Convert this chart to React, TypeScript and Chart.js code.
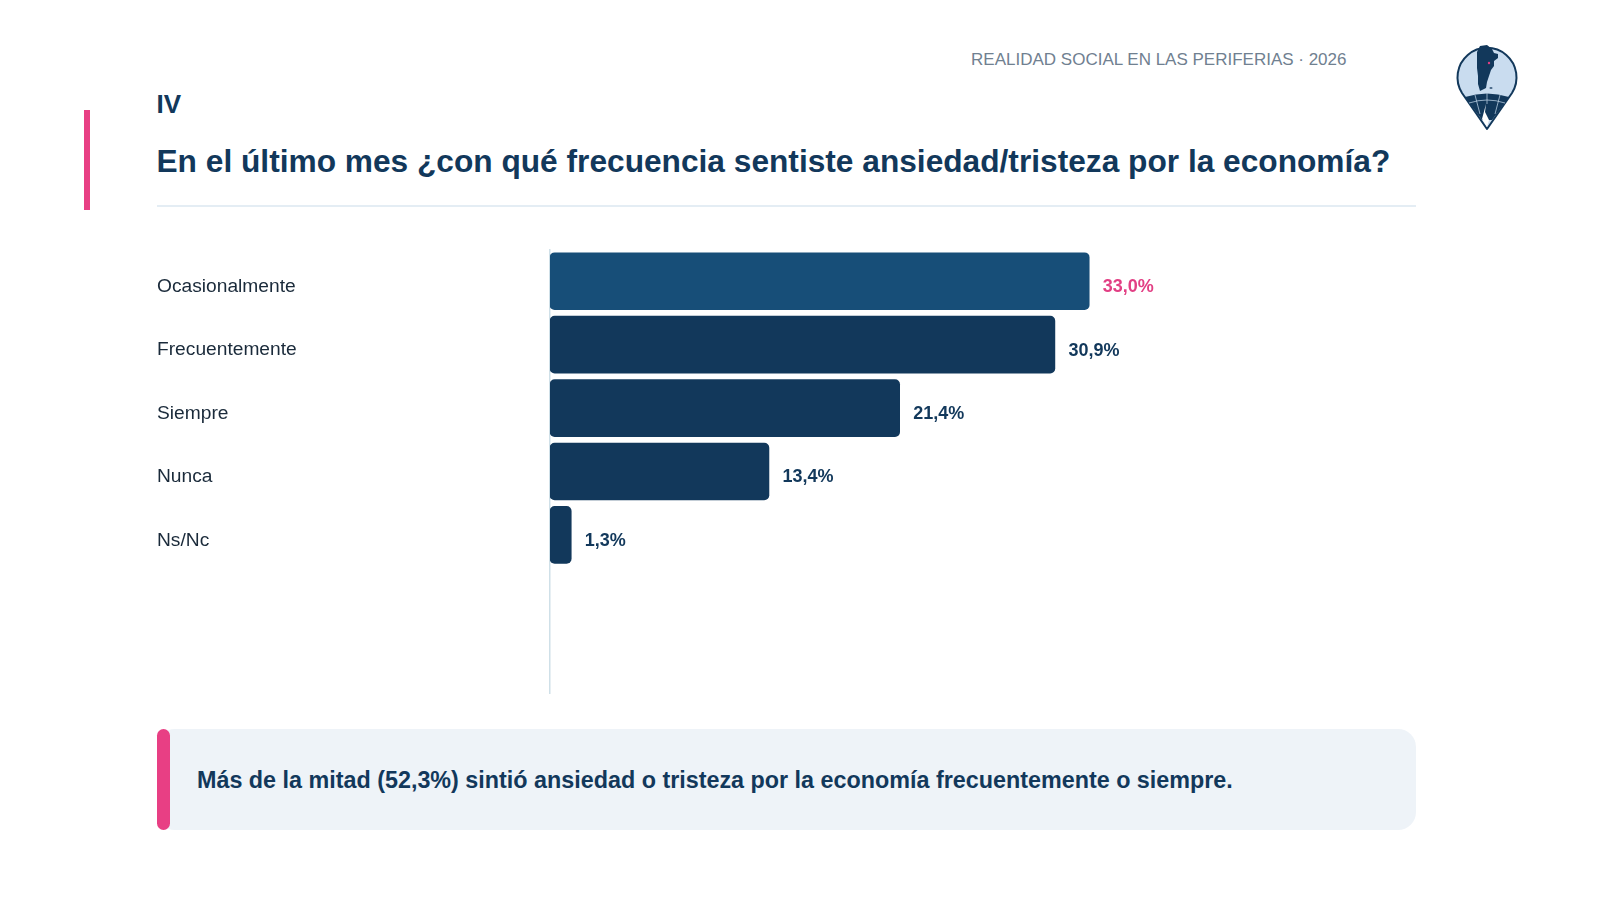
import { useEffect, useRef } from "react";
import { Chart, registerables } from "chart.js";

Chart.register(...registerables);

const categories = ["Ocasionalmente", "Frecuentemente", "Siempre", "Nunca", "Ns/Nc", "", ""];
const values = [33.0, 30.9, 21.4, 13.4, 1.3];
const valueLabels = ["33,0%", "30,9%", "21,4%", "13,4%", "1,3%"];
const barColors = ["#174e78", "#12385b", "#12385b", "#12385b", "#12385b"];
const labelColors = ["#e23f84", "#12385b", "#12385b", "#12385b", "#12385b"];

const FONT = "'Liberation Sans', Arial, sans-serif";

// percentages written after the end of each bar
const valueLabelPlugin = {
  id: "valueLabels",
  afterDatasetsDraw(chart: any) {
    const { ctx } = chart;
    const bars = chart.getDatasetMeta(0).data;
    ctx.save();
    ctx.font = `bold 18px ${FONT}`;
    ctx.textBaseline = "middle";
    bars.forEach((bar: any, i: number) => {
      ctx.fillStyle = labelColors[i];
      ctx.fillText(valueLabels[i], bar.x + 13.5, bar.y + 6);
    });
    ctx.restore();
  },
};

function Logo() {
  return (
    <svg
      viewBox="0 0 120 110"
      width={120}
      height={110}
      style={{ position: "absolute", left: 1400, top: 30 }}
    >
      <path
        d="M87 99 L62 63 A29.5 29.5 0 1 1 112 63 Z"
        fill="#c9dcef"
        stroke="#12385b"
        strokeWidth="2"
        strokeLinejoin="round"
      />
      <path d="M65 67 Q87 60 109 67 L92 90 L82 90 Z" fill="#12385b" />
      <path
        d="M75 65 L80 84 M87 63 L87 74 M100 65 L95 84 M69 73 Q87 67 105 73"
        stroke="#c9dcef"
        strokeWidth="0.7"
        fill="none"
      />
      <path d="M86 74 L85 82 L89 90 L87 97 L82 89 Z" fill="#ffffff" />
      <path
        d="M80 16 L87 15 L92 19 L94 23 L98 24 L98 28 L94 31 L94 36 L91 40 L89 46 L87 52 L86 58 L80 61 L78 54 L78 46 L77 38 L77 30 L77 22 Z"
        fill="#12385b"
      />
      <circle cx="89" cy="33" r="1.2" fill="#e23f84" />
      <ellipse cx="91" cy="58" rx="1.6" ry="0.8" fill="#12385b" />
    </svg>
  );
}

export default function App() {
  const canvasEl = useRef<HTMLCanvasElement>(null);

  useEffect(() => {
    document.body.style.margin = "0";
    const chart = new Chart(canvasEl.current!, {
      type: "bar",
      data: {
        labels: categories,
        datasets: [
          {
            data: values,
            backgroundColor: barColors,
            barThickness: 57,
            borderRadius: 5,
            borderSkipped: false,
          },
        ],
      },
      options: {
        indexAxis: "y",
        responsive: false,
        animation: false,
        layout: { padding: 0 },
        plugins: { legend: { display: false }, tooltip: { enabled: false } },
        scales: {
          x: { display: false, min: 0, max: 53 },
          y: {
            afterFit: (scale: any) => {
              scale.width = 393;
            },
            grid: { display: false },
            border: { display: true, color: "#cfe0e8", width: 1.5 },
            ticks: {
              crossAlign: "far",
              color: "#1a2a3a",
              labelOffset: 5.5,
              padding: 0,
              font: { family: FONT, size: 19.2 },
            },
          },
        },
      },
      plugins: [valueLabelPlugin],
    });
    return () => {
      chart.destroy();
    };
  }, []);

  return (
    <div
      style={{
        position: "relative",
        width: 1600,
        height: 900,
        background: "#ffffff",
        overflow: "hidden",
        fontFamily: FONT,
      }}
    >
      <div style={{ position: "absolute", right: 253.5, top: 49, fontSize: 17, color: "#708090", lineHeight: "22px" }}>
        REALIDAD SOCIAL EN LAS PERIFERIAS · 2026
      </div>
      <Logo />
      <div style={{ position: "absolute", left: 84, top: 110, width: 6, height: 100, background: "#e83f84" }} />
      <div style={{ position: "absolute", left: 156.5, top: 88, fontSize: 26, lineHeight: "32px", fontWeight: 700, color: "#12385b" }}>
        IV
      </div>
      <div style={{ position: "absolute", left: 156.5, top: 141, fontSize: 31.68, lineHeight: "40px", fontWeight: 700, color: "#12385b", whiteSpace: "nowrap" }}>
        En el último mes ¿con qué frecuencia sentiste ansiedad/tristeza por la economía?
      </div>
      <div style={{ position: "absolute", left: 156.5, top: 205, width: 1259, height: 2, background: "#e4edf4" }} />
      <canvas
        ref={canvasEl}
        width={1259}
        height={467}
        style={{ position: "absolute", left: 156.5, top: 238.3 }}
      />
      <div style={{ position: "absolute", left: 156.5, top: 728.5, width: 1259, height: 101.5, background: "#eef3f8", borderRadius: 18 }} />
      <div style={{ position: "absolute", left: 156.5, top: 728.5, width: 13, height: 101.5, background: "#e83f84", borderRadius: 7 }} />
      <div style={{ position: "absolute", left: 197, top: 764, fontSize: 23.33, lineHeight: "32px", fontWeight: 700, color: "#12385b", whiteSpace: "nowrap" }}>
        Más de la mitad (52,3%) sintió ansiedad o tristeza por la economía frecuentemente o siempre.
      </div>
    </div>
  );
}
